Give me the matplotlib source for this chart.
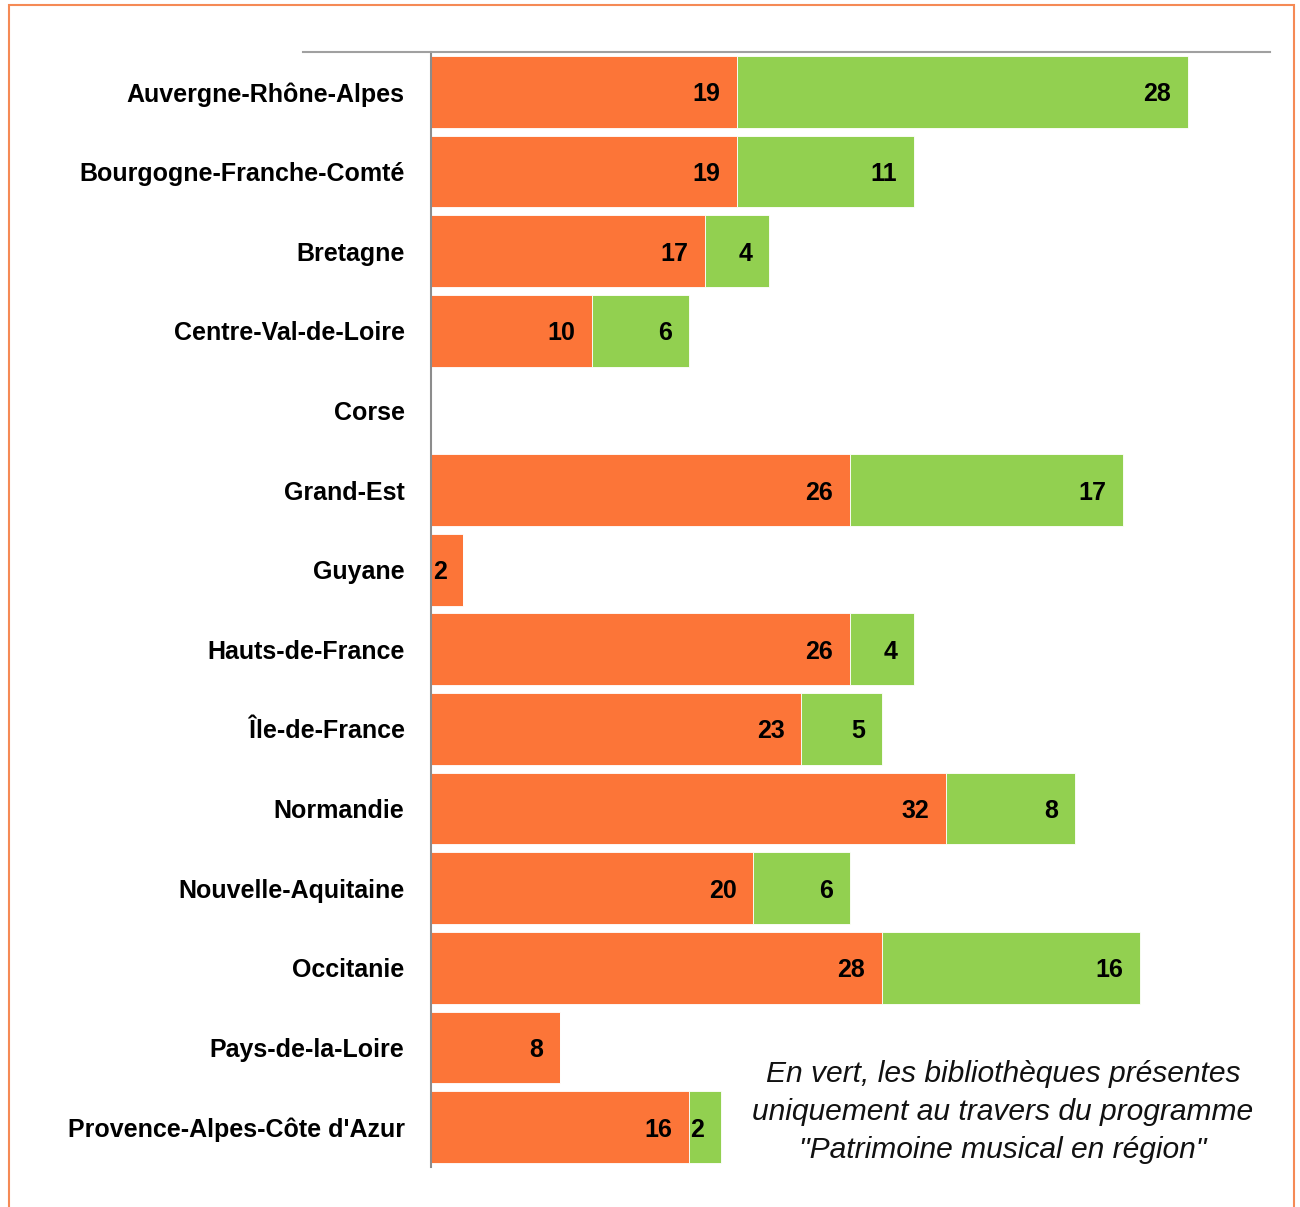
import numpy as np
import matplotlib
matplotlib.use("Agg")
import matplotlib.pyplot as plt
from matplotlib.patches import Rectangle
from matplotlib.lines import Line2D

regions = ["Auvergne-Rhône-Alpes", "Bourgogne-Franche-Comté", "Bretagne",
           "Centre-Val-de-Loire", "Corse", "Grand-Est", "Guyane",
           "Hauts-de-France", "Île-de-France", "Normandie",
           "Nouvelle-Aquitaine", "Occitanie", "Pays-de-la-Loire",
           "Provence-Alpes-Côte d'Azur"]
orange_vals = [19, 19, 17, 10, 0, 26, 2, 26, 23, 32, 20, 28, 8, 16]
green_vals = [28, 11, 4, 6, 0, 17, 0, 4, 5, 8, 6, 16, 0, 2]

note = ("En vert, les bibliothèques présentes\n"
        "uniquement au travers du programme\n"
        "\"Patrimoine musical en région\"")

ORANGE = "#FC7538"
GREEN = "#92D050"
W, H = 1300, 1207

plt.rcParams['font.family'] = ['Liberation Sans', 'DejaVu Sans']

fig = plt.figure(figsize=(W / 100, H / 100), dpi=100)
# axes: left 431, right 1270, top 52, bottom 1167 (pixels)
ax = fig.add_axes([431 / W, 1 - 1167 / H, (1270 - 431) / W, (1167 - 52) / H])

y = np.arange(len(regions))
o = np.array(orange_vals)
g = np.array(green_vals)
ax.barh(y, o, height=0.9, color=ORANGE, edgecolor="white", linewidth=0.6)
ax.barh(y, g, left=o, height=0.9, color=GREEN, edgecolor="white", linewidth=0.6)

ax.set_xlim(0, 52.1)
ax.set_ylim(len(regions) - 0.5, -0.5)
ax.set_yticks(y)
ax.set_yticklabels(regions, fontsize=18, fontweight="bold")
ax.tick_params(axis="y", length=0, pad=19)
ax.set_xticks([])
for s in ["top", "right", "bottom"]:
    ax.spines[s].set_visible(False)
ax.spines["left"].set_color("#8c8c8c")
ax.spines["left"].set_linewidth(1.5)

# value labels, right-aligned inside each segment
for yi, ov, gv in zip(y, o, g):
    if ov > 0:
        ax.annotate(str(ov), (ov, yi), xytext=(-12, 0), textcoords="offset points",
                    ha="right", va="center_baseline", fontsize=18, fontweight="bold")
    if gv > 0:
        ax.annotate(str(gv), (ov + gv, yi), xytext=(-12, 0), textcoords="offset points",
                    ha="right", va="center_baseline", fontsize=18, fontweight="bold")

# top gray rule
fig.add_artist(Line2D([303 / W, 1270 / W], [1 - 52 / H, 1 - 52 / H],
                      color="#a0a0a0", linewidth=1.5))

# orange frame
fig.add_artist(Rectangle((9 / W, -0.05), (1294 - 9) / W, 1 - 5 / H + 0.05,
                         fill=False, edgecolor="#F58A55", linewidth=1.5,
                         transform=fig.transFigure))

fig.text(1003 / W, 1 - 1112 / H, note, ha="center", va="center",
         fontsize=21.6, fontstyle="italic", color="#111111", linespacing=1.45)

fig.savefig("out.png", dpi=100)
